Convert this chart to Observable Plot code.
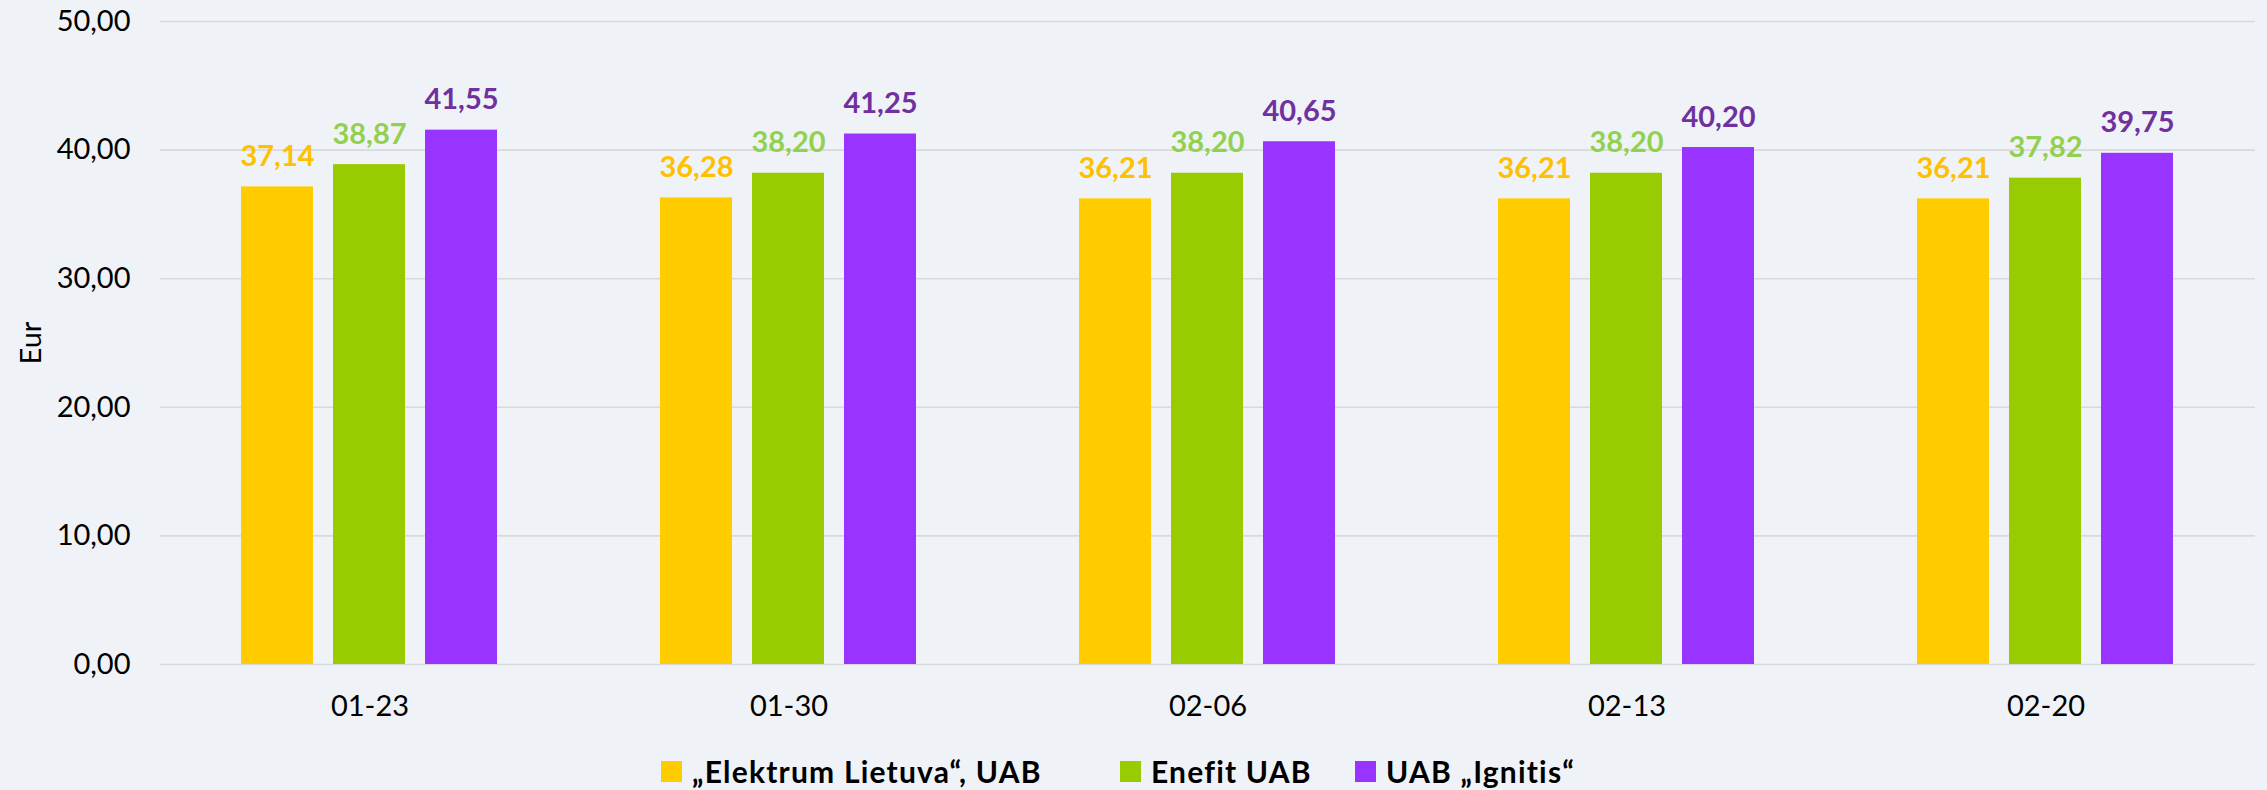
<!DOCTYPE html>
<html><head><meta charset="utf-8">
<script src="https://cdn.jsdelivr.net/npm/d3@7"></script>
<script src="https://cdn.jsdelivr.net/npm/@observablehq/plot@0.6"></script>
<style>
html,body{margin:0;padding:0;background:#eff3f7;overflow:hidden;}
#wrap{position:relative;width:2267px;height:790px;font-family:Lato, sans-serif;}
#legend{position:absolute;left:661px;top:753px;display:flex;align-items:center;font-weight:bold;font-size:30px;letter-spacing:1.2px;color:#000;line-height:36px;}
.item{display:flex;align-items:center;}
.item:nth-child(1){width:459px;}
.item:nth-child(2){width:235px;}
.sw{width:21px;height:21px;margin-right:10px;flex:none;}
</style></head>
<body><div id="wrap"><div id="chart"></div><div id="legend"></div></div>
<script>
const dates = ["01-23", "01-30", "02-06", "02-13", "02-20"];
const seriesNames = ["„Elektrum Lietuva“, UAB", "Enefit UAB", "UAB „Ignitis“"];
const elektrum = [37.14, 36.28, 36.21, 36.21, 36.21];
const enefit = [38.87, 38.20, 38.20, 38.20, 37.82];
const ignitis = [41.55, 41.25, 40.65, 40.20, 39.75];
const yTicks = [0, 10, 20, 30, 40, 50];
const barColors = ["#FFCC00", "#99CC00", "#9933FF"];
const labelColors = ["#FFC000", "#92D050", "#7030A0"];

const seriesValues = [elektrum, enefit, ignitis];
const rows = [];
dates.forEach((d, i) => seriesNames.forEach((s, j) => rows.push({date: d, series: s, value: seriesValues[j][i]})));
const fmt = v => v.toFixed(2).replace(".", ",");

const marks = [
  Plot.ruleY(yTicks, {stroke: "#d9d9d9", strokeWidth: 1.6, strokeOpacity: 1}),
  Plot.barY(rows, {fx: "date", x: "series", y: "value", fill: "series"})
];
seriesNames.forEach((s, j) => {
  marks.push(Plot.text(rows.filter(r => r.series === s), {
    fx: "date", x: "series", y: "value", text: r => fmt(r.value),
    fill: labelColors[j], fontWeight: "bold", fontSize: 29, lineAnchor: "bottom", dy: -21
  }));
});

const chart = Plot.plot({
  width: 2267,
  height: 730,
  marginLeft: 158,
  marginRight: 11,
  marginTop: 21,
  marginBottom: 66,
  style: {fontFamily: "Lato, sans-serif", fontSize: "29px", background: "transparent", color: "#000"},
  fx: {domain: dates, paddingInner: 0, paddingOuter: 0, label: null, axis: "bottom", tickSize: 0, tickPadding: 31},
  x: {domain: seriesNames, paddingInner: 0.215, paddingOuter: 0.8634, align: 0.5, axis: null},
  y: {domain: [0, 50], ticks: yTicks, tickFormat: fmt, tickSize: 0, tickPadding: 30, label: "Eur", labelAnchor: "center", labelOffset: 140, labelArrow: "none"},
  color: {domain: seriesNames, range: barColors},
  marks
});
document.getElementById("chart").appendChild(chart);

const legend = document.getElementById("legend");
seriesNames.forEach((s, j) => {
  const it = document.createElement("div");
  it.className = "item";
  const sw = document.createElement("div");
  sw.className = "sw";
  sw.style.background = barColors[j];
  const tx = document.createElement("span");
  tx.textContent = s;
  it.appendChild(sw); it.appendChild(tx);
  legend.appendChild(it);
});
</script>
</body></html>
